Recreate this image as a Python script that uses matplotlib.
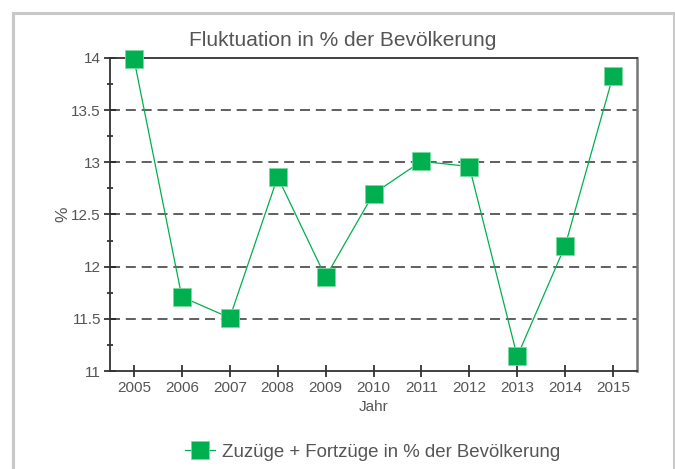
import matplotlib.pyplot as plt
from matplotlib.lines import Line2D
from matplotlib.ticker import MultipleLocator

plt.rcParams['font.family'] = ['Liberation Sans', 'DejaVu Sans']

jahre = [2005, 2006, 2007, 2008, 2009, 2010, 2011, 2012, 2013, 2014, 2015]
werte = [13.99, 11.71, 11.51, 12.86, 11.90, 12.70, 13.01, 12.96, 11.14, 12.20, 13.83]
y_ticks = [11, 11.5, 12, 12.5, 13, 13.5, 14]
y_labels = ['11', '11.5', '12', '12.5', '13', '13.5', '14']

gruen = '#00b050'
grau = '#555555'

fig = plt.figure(figsize=(6.75, 4.69), dpi=100)
ax = fig.add_axes([110/675, 1 - 371/469, 527/675, 313/469])

# grauer Rahmen
W, H = 675, 469
fig.add_artist(Line2D([12.5/W, 12.5/W], [0, 1 - 13.5/H], color='#c8c8c8', lw=2.2))
fig.add_artist(Line2D([12.5/W, 673.5/W], [1 - 13.5/H, 1 - 13.5/H], color='#c8c8c8', lw=2.2))
fig.add_artist(Line2D([673.5/W, 673.5/W], [0, 1 - 13.5/H], color='#c8c8c8', lw=2.2))

for y in y_ticks[1:-1]:
    ax.axhline(y, color='#444444', lw=1.2, dashes=(6, 3.5), zorder=1)

ax.plot(jahre, werte, color=gruen, lw=0.9, marker='s', markersize=12.5,
        markerfacecolor=gruen, markeredgecolor='#7ad9a0', markeredgewidth=0.6,
        zorder=3, clip_on=False, label='Zuzüge + Fortzüge in % der Bevölkerung')

ax.set_xlim(2004.5, 2015.5)
ax.set_ylim(11, 14)
ax.set_xticks(jahre)
ax.set_xticklabels([str(j) for j in jahre])
ax.set_yticks(y_ticks)
ax.set_yticklabels(y_labels)
ax.yaxis.set_minor_locator(MultipleLocator(0.25))

ax.tick_params(axis='x', direction='inout', length=8, width=1.2, colors='#222222',
               labelcolor=grau, labelsize=11, pad=3)
ax.tick_params(axis='y', which='major', direction='inout', length=9, width=1.2,
               colors='#222222', labelcolor=grau, labelsize=11, pad=2)
ax.tick_params(axis='y', which='minor', direction='inout', length=5, width=1.2,
               colors='#222222')

for s in ['left', 'bottom', 'top']:
    ax.spines[s].set_color('#333333')
    ax.spines[s].set_linewidth(1.3)
ax.spines['right'].set_color('#777777')
ax.spines['right'].set_linewidth(1.8)

ax.set_xlabel('Jahr', color=grau, fontsize=11, labelpad=4)
ax.set_ylabel('%', color=grau, fontsize=12.5, labelpad=1)

fig.text(343/675, 1 - 46/469, 'Fluktuation in % der Bevölkerung', ha='center',
         va='baseline', color=grau, fontsize=15)

fig.legend(loc='center', bbox_to_anchor=(373/675, 1 - 452/469), frameon=False,
           fontsize=13.4, labelcolor=grau, handlelength=1.6, handletextpad=0.4)

fig.savefig('out.png', dpi=100)
